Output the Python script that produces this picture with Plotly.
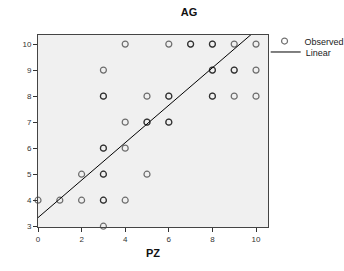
import plotly.graph_objects as go

# Observed points (duplicates where the reference shows darker, overlapping circles)
pz = [4, 6, 7, 7, 8, 8, 9, 10,
      3, 8, 8, 9, 9, 10,
      3, 3, 5, 6, 6, 8, 8, 9, 10,
      4, 5, 5, 6, 6,
      3, 3, 4,
      2, 3, 3, 5,
      0, 1, 2, 3, 3, 4,
      3]
ag = [10, 10, 10, 10, 10, 10, 10, 10,
      9, 9, 9, 9, 9, 9,
      8, 8, 8, 8, 8, 8, 8, 8, 8,
      7, 7, 7, 7, 7,
      6, 6, 6,
      5, 5, 5, 5,
      4, 4, 4, 4, 4, 4,
      3]

# Linear fit
fit_intercept = 3.33
fit_slope = 0.72
fit_x = [0, 10.6]
fit_y = [fit_intercept + fit_slope * v for v in fit_x]

x_ticks = [0, 2, 4, 6, 8, 10]
y_ticks = [3, 4, 5, 6, 7, 8, 9, 10]

fig = go.Figure()
fig.add_trace(go.Scatter(
    x=pz, y=ag, mode="markers", name="Observed", legend="legend",
    marker=dict(symbol="circle-open", size=6, color="rgba(0,0,0,0.55)",
                line=dict(width=1.2, color="rgba(0,0,0,0.55)")),
    cliponaxis=False,
))
fig.add_trace(go.Scatter(
    x=fit_x, y=fit_y, mode="lines", name="Linear", legend="legend2",
    line=dict(color="black", width=1),
))

font = "Liberation Sans, Arial, sans-serif"
leg_common = dict(xanchor="left", yanchor="top", bgcolor="rgba(0,0,0,0)",
                  font=dict(size=9, color="#222"), itemwidth=30)
fig.update_layout(
    width=344, height=271,
    margin=dict(l=38, r=76, t=35, b=44, autoexpand=False),
    paper_bgcolor="white",
    plot_bgcolor="#f0f0f0",
    font=dict(family=font, color="#333", size=9),
    title=dict(text="<b>AG</b>", x=189/344, xref="container", xanchor="center",
               y=0.955, yref="container", yanchor="middle",
               font=dict(size=11, color="#111")),
    showlegend=True,
    legend=dict(x=0.985, y=1.044, **leg_common),
    legend2=dict(x=0.99, y=0.987, **leg_common),
    xaxis=dict(range=[0, 10.55], tickvals=x_ticks, showgrid=False, zeroline=False,
               ticks="outside", ticklen=4, tickcolor="#333",
               showline=True, linecolor="#444", linewidth=1, mirror=True,
               tickfont=dict(size=8, color="#333"),
               title=dict(text="<b>PZ</b>", font=dict(size=11, color="#111"), standoff=6)),
    yaxis=dict(range=[2.97, 10.35], tickvals=y_ticks, showgrid=False, zeroline=False,
               ticks="outside", ticklen=4, tickcolor="#333",
               showline=True, linecolor="#444", linewidth=1, mirror=True,
               tickfont=dict(size=8, color="#333")),
)

fig.write_html("out.html")
